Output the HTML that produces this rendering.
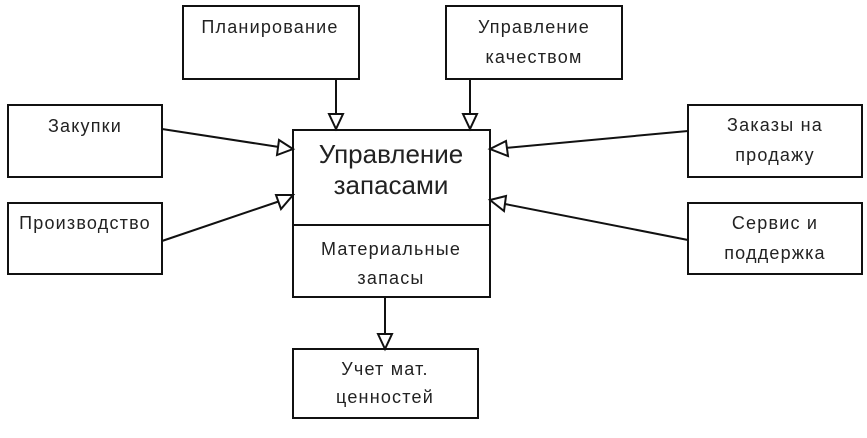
<!DOCTYPE html>
<html><head><meta charset="utf-8"><style>
html,body{margin:0;padding:0;background:#fff;}
svg{display:block;}
text{font-family:"Liberation Sans",sans-serif;fill:#222;text-anchor:middle;}
</style></head><body>
<svg width="867" height="438" viewBox="0 0 867 438" xmlns="http://www.w3.org/2000/svg">
<g fill="#fff" stroke="#111" stroke-width="2">
<rect x="183" y="6" width="176" height="73"/>
<rect x="446" y="6" width="176" height="73"/>
<rect x="8" y="105" width="154" height="72"/>
<rect x="8" y="203" width="154" height="71"/>
<rect x="688" y="105" width="174" height="72"/>
<rect x="688" y="203" width="174" height="71"/>
<rect x="293" y="130" width="197" height="167"/>
<line x1="293" y1="225" x2="490" y2="225"/>
<rect x="293" y="349" width="185" height="69"/>
<line x1="336" y1="79" x2="336" y2="114"/>
<polygon points="329,114 343,114 336,129"/>
<line x1="470" y1="79" x2="470" y2="114"/>
<polygon points="463,114 477,114 470,129"/>
<line x1="162" y1="129" x2="279" y2="147"/>
<polygon points="279,140 293,149 277,155"/>
<line x1="162" y1="241" x2="280" y2="201"/>
<polygon points="276,195 293,195 281,209"/>
<line x1="688" y1="131" x2="505" y2="148"/>
<polygon points="506,141 490,149 508,156"/>
<line x1="688" y1="240" x2="505" y2="204"/>
<polygon points="506,196 490,200 504,211"/>
<line x1="385" y1="297" x2="385" y2="334"/>
<polygon points="378,334 392,334 385,349"/>
</g>
<g font-size="18" letter-spacing="1.2">
<text x="270" y="33">Планирование</text>
<text x="534" y="33">Управление</text>
<text x="534" y="63">качеством</text>
<text x="85" y="132">Закупки</text>
<text x="85" y="229">Производство</text>
<text x="775" y="131">Заказы на</text>
<text x="775" y="161">продажу</text>
<text x="775" y="229">Сервис и</text>
<text x="775" y="259">поддержка</text>
<text x="391" y="255">Материальные</text>
<text x="391" y="284">запасы</text>
<text x="385" y="375">Учет мат.</text>
<text x="385" y="403">ценностей</text>
</g>
<text x="391" y="163" font-size="26">Управление</text>
<text x="391" y="194" font-size="26">запасами</text>
</svg>
</body></html>
